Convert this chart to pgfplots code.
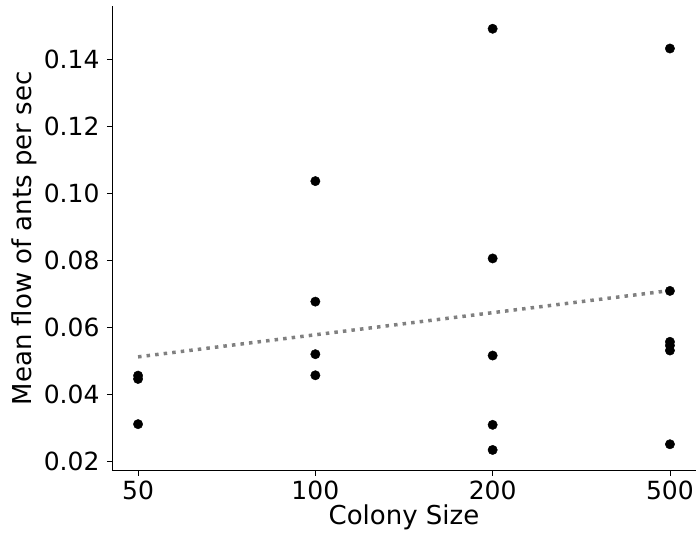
\documentclass[border=0pt]{standalone}
\usepackage{fontspec}
\setmainfont{DejaVu Sans}
\usepackage{pgfplots}
\pgfplotsset{compat=1.18}
\definecolor{trend}{RGB}{128,128,128}
\begin{document}
\begin{tikzpicture}
\begin{axis}[
  scale only axis, width=584bp, height=464.7bp,
  xmin=-0.147, xmax=3.147, ymin=0.0172, ymax=0.156,
  axis lines*=left,
  axis line style={line width=0.8bp, black},
  xtick={0,1,2,3}, xticklabels={50,100,200,500},
  ytick={0.02,0.04,0.06,0.08,0.10,0.12,0.14},
  scaled y ticks=false,
  yticklabel style={/pgf/number format/fixed, /pgf/number format/precision=2, /pgf/number format/fixed zerofill, xshift=-4bp},
  xticklabel style={yshift=-2bp},
  /pgf/number format/assume math mode=true,
  tick align=outside, major tick length=5bp,
  tick style={line width=0.8bp, black},
  tick label style={font=\fontsize{25bp}{29bp}\selectfont},
  label style={font=\fontsize{26bp}{30bp}\selectfont},
  xlabel={Colony Size}, ylabel={Mean flow of ants per sec},
  xlabel style={yshift=2bp},
  clip=false,
]
\addplot[only marks, mark=*, mark size=4.7bp, black] coordinates {
  (0,0.0456) (0,0.0446) (0,0.0311)
  (1,0.1037) (1,0.0677) (1,0.0520) (1,0.0457)
  (2,0.1492) (2,0.0806) (2,0.0516) (2,0.0309) (2,0.0234)
  (3,0.1433) (3,0.0709) (3,0.0557) (3,0.0546) (3,0.0531) (3,0.0251)
};
\addplot[trend, line width=3.5bp, dash pattern=on 3.5bp off 5.1bp] coordinates {(0,0.0512) (3,0.0710)};
\end{axis}
\pgfresetboundingbox
\path (current axis.south west) ++(-112bp,-68.3bp) rectangle ++(696bp,539bp);
\end{tikzpicture}
\end{document}
